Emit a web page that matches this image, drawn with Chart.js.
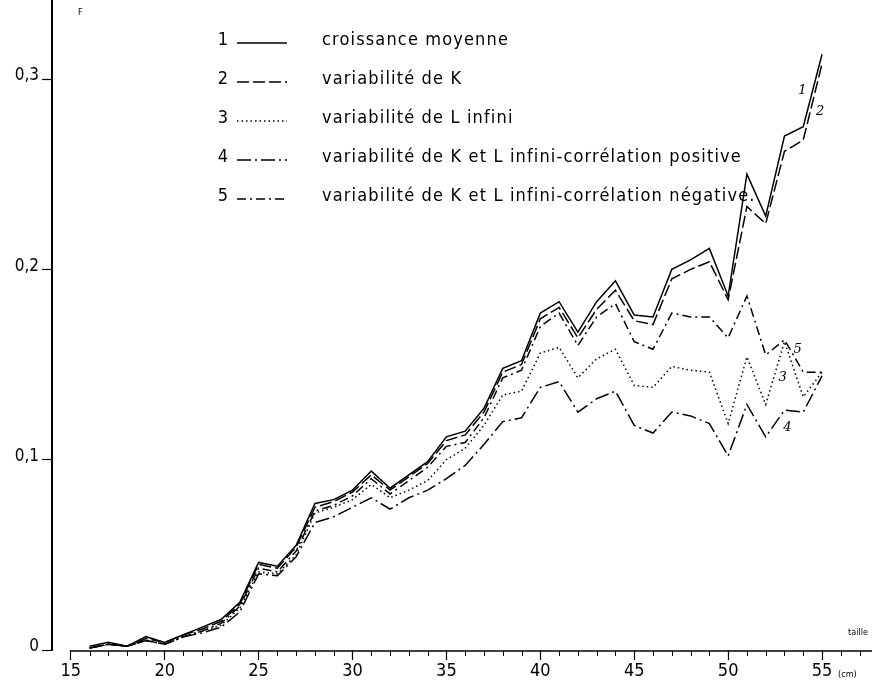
<!DOCTYPE html>
<html><head><meta charset="utf-8">
<script src="https://cdn.jsdelivr.net/npm/chart.js@4.4.1/dist/chart.umd.min.js"></script>
<style>html,body{margin:0;padding:0;background:#fff}#wrap{width:876px;height:685px}</style>
</head><body><div id="wrap"><canvas id="c" width="876" height="685"></canvas></div>
<script>
// ---- data ----
const taille = [16,17,18,19,20,21,22,23,24,25,26,27,28,29,30,31,32,33,34,35,36,37,38,39,40,41,42,43,44,45,46,47,48,49,50,51,52,53,54,55];
const croissanceMoyenne = [0.002,0.004,0.002,0.007,0.004,0.008,0.012,0.016,0.025,0.046,0.044,0.055,0.077,0.079,0.084,0.094,0.085,0.092,0.099,0.112,0.115,0.127,0.148,0.152,0.177,0.183,0.167,0.183,0.194,0.176,0.175,0.200,0.205,0.211,0.186,0.250,0.228,0.270,0.275,0.313];
const variabiliteK = [0.001,0.003,0.002,0.006,0.004,0.008,0.011,0.015,0.024,0.045,0.043,0.054,0.075,0.078,0.083,0.092,0.084,0.091,0.098,0.110,0.113,0.125,0.146,0.150,0.174,0.180,0.164,0.179,0.189,0.173,0.171,0.195,0.200,0.204,0.184,0.233,0.224,0.262,0.268,0.308];
const variabiliteL = [0.001,0.003,0.002,0.005,0.003,0.007,0.010,0.013,0.022,0.041,0.040,0.050,0.072,0.075,0.079,0.087,0.080,0.084,0.089,0.100,0.106,0.118,0.134,0.136,0.156,0.159,0.143,0.153,0.158,0.139,0.138,0.149,0.147,0.146,0.119,0.154,0.129,0.162,0.133,0.146];
const correlPositive = [0.001,0.003,0.002,0.005,0.003,0.007,0.009,0.012,0.020,0.040,0.039,0.049,0.067,0.070,0.075,0.080,0.074,0.080,0.084,0.090,0.097,0.108,0.120,0.122,0.138,0.141,0.125,0.132,0.136,0.118,0.114,0.125,0.123,0.119,0.102,0.129,0.112,0.126,0.125,0.144];
const correlNegative = [0.001,0.003,0.002,0.005,0.003,0.007,0.010,0.014,0.023,0.043,0.041,0.052,0.073,0.076,0.081,0.090,0.082,0.089,0.096,0.107,0.109,0.122,0.143,0.147,0.170,0.177,0.160,0.175,0.182,0.162,0.158,0.177,0.175,0.175,0.164,0.186,0.155,0.163,0.146,0.146];

const seriesNumbers = ['1','2','3','4','5'];
const seriesNames = ['croissance moyenne','variabilité de K','variabilité de L infini','variabilité de K et L infini-corrélation positive','variabilité de K et L infini-corrélation négative.'];
const xTickValues = [15,20,25,30,35,40,45,50,55];
const xTickLabels = ['15','20','25','30','35','40','45','50','55'];
const yTickValues = [0,0.1,0.2,0.3];
const yTickLabels = ['0','0,1','0,2','0,3'];
const yAxisTitle = 'F';
const xAxisTitle = 'taille';
const xAxisUnit = '(cm)';

// ---- styles ----
const FONT = "'Liberation Sans Narrow','DejaVu Sans Condensed','Liberation Sans',Arial,sans-serif";
const dashes = [[], [12,4], [1.5,3], [14,4,2,4], [9,4,2,4]];
const seriesData = [croissanceMoyenne, variabiliteK, variabiliteL, correlPositive, correlNegative];

const datasets = seriesData.map((arr, k) => ({
  label: seriesNames[k],
  data: taille.map((t, i) => ({x: t, y: arr[i]})),
  borderColor: '#000',
  borderWidth: 1.5,
  borderDash: dashes[k],
  pointRadius: 0,
  tension: 0,
  fill: false
}));

const curveLabels = [
  {t:'1', x:53.95, y:0.294},
  {t:'2', x:54.9, y:0.283},
  {t:'5', x:53.7, y:0.158},
  {t:'3', x:52.9, y:0.143},
  {t:'4', x:53.15, y:0.117}
];

const decor = {
  id: 'decor',
  afterDraw(chart) {
    const {ctx, chartArea, scales: {x, y}} = chart;
    ctx.save();
    const y0 = y.getPixelForValue(0);
    // x axis line starting at 15
    ctx.strokeStyle = '#000';
    ctx.lineWidth = 1.5;
    ctx.setLineDash([]);
    ctx.beginPath();
    ctx.moveTo(x.getPixelForValue(15), y0 + 1);
    ctx.lineTo(chartArea.right, y0 + 1);
    ctx.stroke();
    // minor ticks
    ctx.lineWidth = 1;
    for (let v = 16; v <= 57; v++) {
      if (v % 5 === 0) continue;
      const px = Math.round(x.getPixelForValue(v)) + 0.5;
      ctx.beginPath(); ctx.moveTo(px, y0 + 1); ctx.lineTo(px, y0 + 6); ctx.stroke();
    }
    // axis titles
    ctx.fillStyle = '#000';
    ctx.font = '9px ' + FONT;
    ctx.textAlign = 'left'; ctx.textBaseline = 'middle';
    ctx.fillText(yAxisTitle, chartArea.left + 26, 13);
    ctx.fillText(xAxisTitle, chartArea.right - 24, y0 - 17);
    ctx.fillText(xAxisUnit, x.getPixelForValue(55) + 16, y0 + 25);
    // legend
    const rowY = [40, 79, 118, 157, 196];
    for (let k = 0; k < 5; k++) {
      const ry = rowY[k];
      ctx.font = '18px ' + FONT;
      ctx.textAlign = 'center';
      ctx.fillText(seriesNumbers[k], 223, ry);
      ctx.textAlign = 'left';
      ctx.letterSpacing = '1.15px';
      ctx.fillText(seriesNames[k], 322, ry);
      ctx.letterSpacing = '0px';
      ctx.lineWidth = 1.4;
      ctx.setLineDash(dashes[k]);
      ctx.beginPath();
      ctx.moveTo(237, ry + 3);
      ctx.lineTo(287, ry + 3);
      ctx.stroke();
    }
    ctx.setLineDash([]);
    // curve numbers
    ctx.font = 'italic 13px "DejaVu Serif", serif';
    ctx.textAlign = 'center';
    for (const c of curveLabels) {
      ctx.fillText(c.t, x.getPixelForValue(c.x), y.getPixelForValue(c.y));
    }
    ctx.restore();
  }
};

new Chart(document.getElementById('c'), {
  type: 'line',
  data: { datasets },
  options: {
    responsive: false,
    animation: false,
    devicePixelRatio: 1,
    layout: { padding: { left: 0, right: 4, top: 1, bottom: 0 } },
    plugins: { legend: { display: false }, tooltip: { enabled: false } },
    scales: {
      x: {
        type: 'linear',
        min: 14,
        max: 57.66,
        afterFit(s) { s.height = 35; s.paddingLeft = 0; s.paddingRight = 0; },
        afterBuildTicks(s) { s.ticks = xTickValues.map(v => ({value: v})); },
        border: { display: false },
        grid: { drawOnChartArea: false, tickLength: 10, color: '#000', tickWidth: 1.2 },
        ticks: {
          autoSkip: false, maxRotation: 0, padding: 1, color: '#000',
          font: { family: FONT, size: 18 },
          callback: (v, i) => xTickLabels[i]
        }
      },
      y: {
        type: 'linear',
        min: 0,
        max: 0.341,
        afterFit(s) { s.width = 52; s.paddingTop = 0; s.paddingBottom = 0; },
        afterBuildTicks(s) { s.ticks = yTickValues.map(v => ({value: v})); },
        border: { display: true, color: '#000', width: 2 },
        grid: { drawOnChartArea: false, tickLength: 10, color: '#000', tickWidth: 1.2 },
        ticks: {
          padding: 3, color: '#000', labelOffset: -3,
          font: { family: FONT, size: 17 },
          callback: (v, i) => yTickLabels[i]
        }
      }
    }
  },
  plugins: [decor]
});
</script>
</body></html>
